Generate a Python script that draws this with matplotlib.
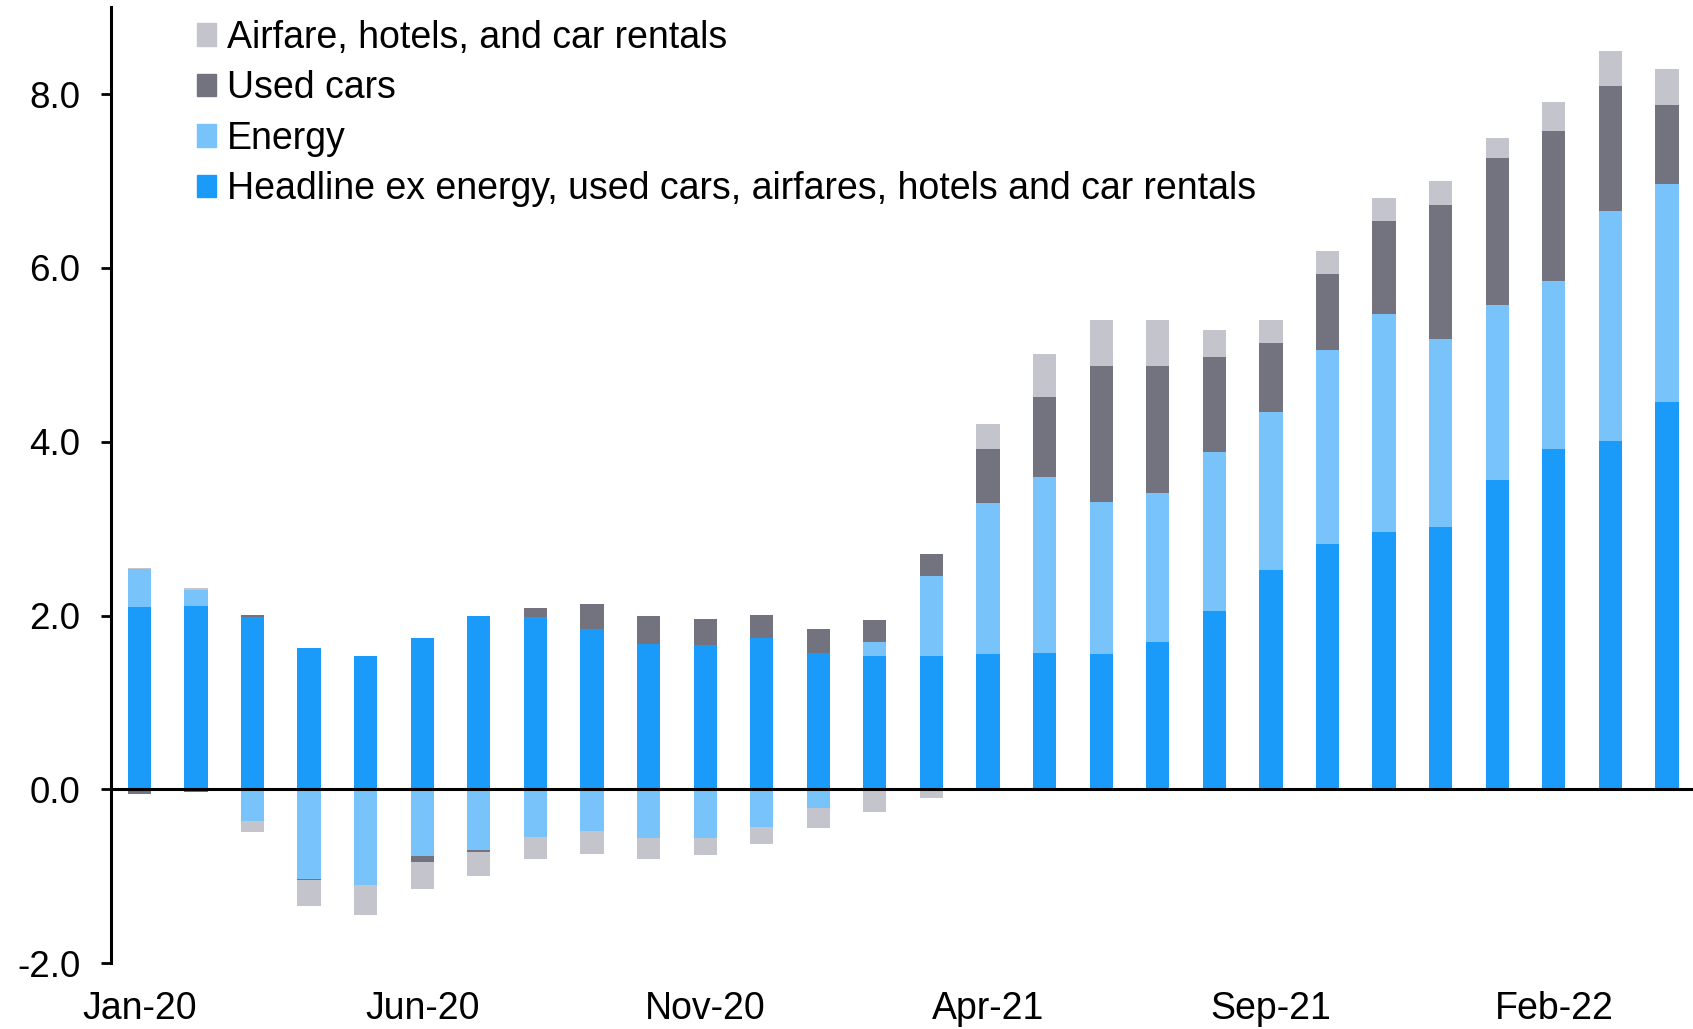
import numpy as np
import matplotlib
matplotlib.use('Agg')
import matplotlib.pyplot as plt
from matplotlib.patches import Patch

plt.rcParams['font.family'] = ['Liberation Sans', 'DejaVu Sans']

months = ['Jan-20', 'Feb-20', 'Mar-20', 'Apr-20', 'May-20', 'Jun-20', 'Jul-20',
          'Aug-20', 'Sep-20', 'Oct-20', 'Nov-20', 'Dec-20', 'Jan-21', 'Feb-21',
          'Mar-21', 'Apr-21', 'May-21', 'Jun-21', 'Jul-21', 'Aug-21', 'Sep-21',
          'Oct-21', 'Nov-21', 'Dec-21', 'Jan-22', 'Feb-22', 'Mar-22', 'Apr-22']

headline = [2.10, 2.11, 1.98, 1.63, 1.54, 1.74, 1.99, 1.98, 1.85, 1.67, 1.66, 1.74,
            1.57, 1.54, 1.54, 1.56, 1.57, 1.56, 1.69, 2.05, 2.52, 2.82, 2.96, 3.02,
            3.56, 3.92, 4.01, 4.46]
energy = [0.43, 0.18, -0.36, -1.03, -1.10, -0.77, -0.70, -0.55, -0.48, -0.56, -0.56, -0.43,
          -0.22, 0.16, 0.91, 1.74, 2.02, 1.75, 1.72, 1.83, 1.82, 2.24, 2.51, 2.16,
          2.01, 1.93, 2.65, 2.50]
used_cars = [-0.05, -0.03, 0.03, -0.01, 0.0, -0.07, -0.02, 0.11, 0.28, 0.32, 0.30, 0.27,
             0.28, 0.25, 0.26, 0.62, 0.93, 1.56, 1.46, 1.09, 0.80, 0.87, 1.07, 1.54,
             1.69, 1.72, 1.43, 0.91]
airfare = [0.02, 0.03, -0.13, -0.30, -0.35, -0.31, -0.28, -0.25, -0.26, -0.24, -0.20, -0.20,
           -0.23, -0.26, -0.10, 0.28, 0.49, 0.53, 0.53, 0.32, 0.26, 0.27, 0.26, 0.28,
           0.24, 0.34, 0.41, 0.42]

series = [
    ('Headline ex energy, used cars, airfares, hotels and car rentals', headline, '#1a9bfa'),
    ('Energy', energy, '#79c3fb'),
    ('Used cars', used_cars, '#73737f'),
    ('Airfare, hotels, and car rentals', airfare, '#c4c4cc'),
]

fig = plt.figure(figsize=(16.93, 10.29), dpi=100)
ax = fig.add_axes([0.0656, 0.064, 0.9344, 0.9290])

x = np.arange(len(months))
pos_base = np.zeros(len(months))
neg_base = np.zeros(len(months))
for name, vals, col in series:
    v = np.array(vals)
    pos = np.where(v > 0, v, 0)
    neg = np.where(v < 0, v, 0)
    ax.bar(x, pos, 0.41, bottom=pos_base, color=col, zorder=2)
    ax.bar(x, neg, 0.41, bottom=neg_base, color=col, zorder=2)
    pos_base += pos
    neg_base += neg

ax.axhline(0, color='black', lw=2.2, zorder=3)
ax.set_xlim(-0.5, 27.46)
ax.set_ylim(-2.0, 9.0)
ax.set_yticks([-2, 0, 2, 4, 6, 8])
ax.set_yticklabels(['%.1f' % t for t in [-2, 0, 2, 4, 6, 8]])
ax.set_xticks(x[::5])
ax.set_xticklabels(months[::5])

for s in ['top', 'right', 'bottom']:
    ax.spines[s].set_visible(False)
ax.spines['left'].set_linewidth(2.2)
ax.tick_params(axis='y', labelsize=26.5, length=7, width=2, pad=15)
ax.tick_params(axis='x', labelsize=27, length=0, pad=20)

handles = [Patch(color=col, label=name) for name, vals, col in series][::-1]
fig.legend(handles=handles, loc='upper left', bbox_to_anchor=(0.1164, 0.981),
           frameon=False, fontsize=27, handlelength=0.5, handleheight=0.55,
           handletextpad=0.3, labelspacing=0.39, borderpad=0, borderaxespad=0)

fig.savefig('out.png', dpi=100)
